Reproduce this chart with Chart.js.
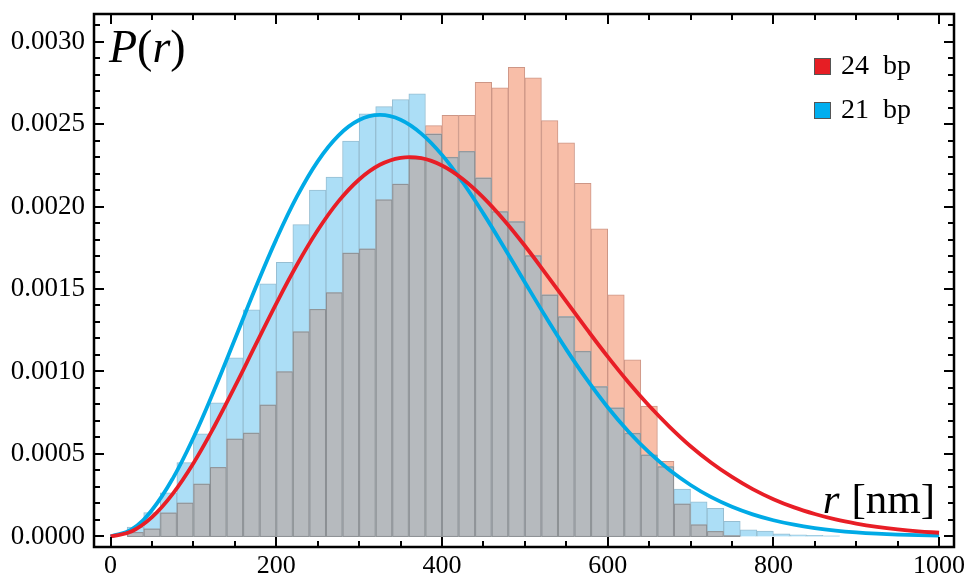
<!DOCTYPE html>
<html>
<head>
<meta charset="utf-8">
<script src="https://cdn.jsdelivr.net/npm/chart.js@4.4.0/dist/chart.umd.min.js"></script>
<style>
  html, body { margin: 0; padding: 0; background: #fff; }
  #wrap { position: relative; width: 968px; height: 577px; overflow: hidden; }
  #chart { position: absolute; left: 0; top: 0; }
  .txt { position: absolute; font-family: 'Liberation Serif', 'Times New Roman', serif; color: #000; line-height: 1; white-space: nowrap; }
  #ylab { left: 109px; top: 24px; font-size: 46px; }
  #xlab { right: 33px; top: 477px; font-size: 43px; }
  #xlab i { margin-right: 12px; }
  .key { position: absolute; left: 814px; width: 15px; height: 15px; border: 1px solid #555; }
  .keytxt { left: 841px; font-size: 28px; word-spacing: 7px; }
</style>
</head>
<body>
<div id="wrap">
  <canvas id="chart" width="968" height="577"></canvas>
  <div class="txt" id="ylab"><i>P</i>(<i>r</i>)</div>
  <div class="txt" id="xlab"><i>r</i>[nm]</div>
  <div class="key" style="top:58px; background:rgb(230,30,36);"></div>
  <div class="txt keytxt" style="top:51px;">24 bp</div>
  <div class="key" style="top:102px; background:rgb(0,174,239);"></div>
  <div class="txt keytxt" style="top:95px;">21 bp</div>
</div>
<script>
// histogram bins (20 nm wide), centre of each bin
const binCenters = [30, 50, 70, 90, 110, 130, 150, 170, 190, 210, 230, 250, 270, 290, 310, 330, 350, 370, 390, 410,
  430, 450, 470, 490, 510, 530, 550, 570, 590, 610, 630, 650, 670, 690, 710, 730, 750, 770, 790, 810, 830, 850, 870];
// 24 bp histogram
const hist24 = [0.000026, 0.000047, 0.000144, 0.000204, 0.000319, 0.00042, 0.000592, 0.000628, 0.000798, 0.001,
  0.001242, 0.001378, 0.001479, 0.001719, 0.001744, 0.002042, 0.002137, 0.00229, 0.00249, 0.002552,
  0.002552, 0.002753, 0.002719, 0.002844, 0.00278, 0.002521, 0.002386, 0.002141, 0.001865, 0.001465,
  0.001071, 0.00079, 0.000456, 0.000198, 0.000072, 0.000032, 0.000006, 0, 0, 0, 0, 0, 0];
// 21 bp histogram
const hist21 = [0.000056, 0.000144, 0.000265, 0.000447, 0.000622, 0.00081, 0.001083, 0.001374, 0.001531, 0.001662,
  0.00189, 0.0021, 0.002178, 0.002396, 0.002562, 0.002606, 0.002648, 0.002683, 0.00244, 0.002299,
  0.002335, 0.002174, 0.00197, 0.001909, 0.001703, 0.001465, 0.001333, 0.001123, 0.000909, 0.00078,
  0.000626, 0.000495, 0.000424, 0.000287, 0.00021, 0.00017, 0.000092, 0.00004, 0.000032, 0.000016,
  0.00001, 0.000006, 0.000004];

// fitted curves, read every 25 nm
const curveR = [0, 25, 50, 75, 100, 125, 150, 175, 200, 225, 250, 275, 300, 325, 350, 375, 400, 425, 450, 475,
  500, 525, 550, 575, 600, 625, 650, 675, 700, 725, 750, 775, 800, 825, 850, 875, 900, 925, 950, 975, 1000];
const curve24 = [0, 0.0000298, 0.0001176, 0.0002584, 0.000444, 0.000665, 0.000908, 0.001161, 0.001412, 0.001647,
  0.001856, 0.002031, 0.002164, 0.002253, 0.002295, 0.002293, 0.002249, 0.002167, 0.002054, 0.001917,
  0.001762, 0.001595, 0.001425, 0.001255, 0.00109, 0.000935, 0.000792, 0.000663, 0.000547, 0.000447,
  0.000361, 0.000287, 0.000226, 0.000176, 0.000136, 0.000103, 0.0000777, 0.0000578, 0.0000425, 0.000031, 0.0000223];
const curve21 = [0, 0.0000408, 0.0001605, 0.0003506, 0.000598, 0.000886, 0.001195, 0.001507, 0.001801, 0.002061,
  0.002274, 0.00243, 0.002524, 0.002555, 0.002526, 0.002442, 0.002313, 0.002147, 0.001957, 0.001752,
  0.001541, 0.001333, 0.001134, 0.00095, 0.000783, 0.000636, 0.000509, 0.000401, 0.000312, 0.000238,
  0.00018, 0.000134, 0.0000983, 0.0000711, 0.0000509, 0.0000358, 0.0000249, 0.0000171, 0.0000115, 0.0000077, 0.0000051];

const xTickLabels = [0, 200, 400, 600, 800, 1000];
const yTickLabels = [0, 0.0005, 0.001, 0.0015, 0.002, 0.0025, 0.003];

const pts = (xs, ys) => xs.map((x, i) => ({ x: x, y: ys[i] }));

// grey where the two histograms overlap, drawn right after the 21 bp bars
const overlapPlugin = {
  id: 'overlap',
  afterDatasetDraw(chart, args) {
    if (args.index !== 1) return;
    const bars24 = chart.getDatasetMeta(0).data;
    const bars21 = chart.getDatasetMeta(1).data;
    const ctx = chart.ctx;
    ctx.save();
    ctx.fillStyle = 'rgb(182,186,190)';
    ctx.strokeStyle = 'rgb(140,144,148)';
    ctx.lineWidth = 1;
    bars24.forEach((bar, i) => {
      const other = bars21[i];
      const top = Math.max(bar.y, other.y);
      const h = bar.base - top;
      if (h <= 0.5) return;
      const left = bar.x - bar.width / 2;
      ctx.fillRect(left, top, bar.width, h);
      ctx.strokeRect(left + 0.5, top + 0.5, bar.width - 1, h - 0.5);
    });
    ctx.restore();
  }
};

// Mathematica style frame with inward ticks on all four sides
const framePlugin = {
  id: 'frame',
  afterDraw(chart) {
    const { ctx, chartArea: a, scales } = chart;
    const x = scales.x, y = scales.y;
    ctx.save();
    ctx.strokeStyle = '#000';
    ctx.lineWidth = 2;
    ctx.beginPath();
    for (let v = 0; v <= 1000; v += 50) {
      const px = Math.round(x.getPixelForValue(v));
      const len = v % 200 === 0 ? 10 : 6;
      ctx.moveTo(px, a.bottom); ctx.lineTo(px, a.bottom - len);
      ctx.moveTo(px, a.top); ctx.lineTo(px, a.top + len);
    }
    for (let k = 0; k <= 31; k++) {
      const py = Math.round(y.getPixelForValue(k * 0.0001));
      const len = k % 5 === 0 ? 10 : 6;
      ctx.moveTo(a.left, py); ctx.lineTo(a.left + len, py);
      ctx.moveTo(a.right, py); ctx.lineTo(a.right - len, py);
    }
    ctx.stroke();
    ctx.lineWidth = 2.5;
    ctx.strokeRect(a.left, a.top, a.right - a.left, a.bottom - a.top);
    ctx.restore();
  }
};

const ctx = document.getElementById('chart').getContext('2d');
new Chart(ctx, {
  type: 'bar',
  data: {
    datasets: [
      {
        label: '24 bp', data: pts(binCenters, hist24), order: 5,
        backgroundColor: 'rgb(248,190,168)', borderColor: 'rgb(205,150,134)', borderWidth: 1,
        barPercentage: 1, categoryPercentage: 1, grouped: false
      },
      {
        label: '21 bp', data: pts(binCenters, hist21), order: 4,
        backgroundColor: 'rgb(172,222,246)', borderColor: 'rgb(150,190,210)', borderWidth: 1,
        barPercentage: 1, categoryPercentage: 1, grouped: false
      },
      {
        type: 'line', label: '21 bp fit', data: pts(curveR, curve21), order: 2,
        borderColor: 'rgb(0,170,230)', borderWidth: 3.8, pointRadius: 0, fill: false, tension: 0.4
      },
      {
        type: 'line', label: '24 bp fit', data: pts(curveR, curve24), order: 1,
        borderColor: 'rgb(232,30,38)', borderWidth: 3.8, pointRadius: 0, fill: false, tension: 0.4
      }
    ]
  },
  options: {
    responsive: false,
    animation: false,
    devicePixelRatio: 1,
    layout: { padding: { top: 14, right: 14, left: 0, bottom: 0 } },
    plugins: { legend: { display: false }, tooltip: { enabled: false } },
    scales: {
      x: {
        type: 'linear', min: -20, max: 1018, offset: false,
        grid: { display: false, drawTicks: false },
        border: { display: false },
        afterBuildTicks: s => { s.ticks = xTickLabels.map(v => ({ value: v })); },
        afterFit: s => { s.height = 30; s.paddingLeft = 0; s.paddingRight = 0; },
        ticks: {
          padding: 4, color: '#000', maxRotation: 0, autoSkip: false,
          font: { family: "'Liberation Serif', serif", size: 26 },
          callback: v => String(v)
        }
      },
      y: {
        type: 'linear', min: -0.000064, max: 0.003167,
        grid: { display: false, drawTicks: false },
        border: { display: false },
        afterBuildTicks: s => { s.ticks = yTickLabels.map(v => ({ value: v })); },
        afterFit: s => { s.width = 94; s.paddingTop = 0; s.paddingBottom = 0; },
        ticks: {
          padding: 9, color: '#000', autoSkip: false,
          font: { family: "'Liberation Serif', serif", size: 27 },
          callback: v => v.toFixed(4)
        }
      }
    }
  },
  plugins: [overlapPlugin, framePlugin]
});
</script>
</body>
</html>
